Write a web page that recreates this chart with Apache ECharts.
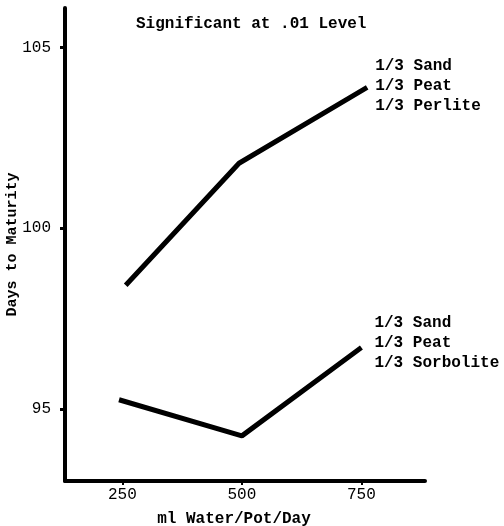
<!DOCTYPE html>
<html>
<head>
<meta charset="utf-8">
<script src="https://cdn.jsdelivr.net/npm/echarts@6/dist/echarts.min.js"></script>
<style>
	html, body { margin: 0; padding: 0; background: #fff; }
	#main { width: 504px; height: 526px; }
</style>
</head>
<body>
<div id="main"></div>
<script>
	// ml water per pot per day
	var xTicks = [ 250, 500, 750 ];
	var yTicks = [ 95, 100, 105 ];

	// 1/3 Sand, 1/3 Peat, 1/3 Perlite
	var perliteX = [ 257, 494, 762 ];
	var perliteY = [ 98.42, 101.8, 103.9 ];

	// 1/3 Sand, 1/3 Peat, 1/3 Sorbolite
	var sorboliteX = [ 243, 500, 750 ];
	var sorboliteY = [ 95.25, 94.25, 96.7 ];

	var perliteLabel = [ '1/3 Sand', '1/3 Peat', '1/3 Perlite' ];
	var sorboliteLabel = [ '1/3 Sand', '1/3 Peat', '1/3 Sorbolite' ];

	function pairs(xs, ys) {
		var out = [];
		for (var i = 0; i < xs.length; i++) {
			out.push([ xs[i], ys[i] ]);
		}
		return out;
	}

	var font = 'Liberation Mono';
	var myChart = echarts.init(document.getElementById('main'));
	var option = {
		animation : false,
		textStyle : {
			fontFamily : font,
			color : '#000'
		},
		title : {
			text : 'Significant at .01 Level',
			left : 131,
			top : 11,
			textStyle : {
				fontFamily : font,
				fontSize : 16,
				fontWeight : 'bold',
				color : '#000'
			}
		},
		grid : {
			left : 65,
			right : 79,
			top : 8,
			bottom : 45,
			containLabel : false,
			outerBoundsMode : 'none'
		},
		xAxis : {
			type : 'value',
			min : 130,
			max : 883,
			name : 'ml Water/Pot/Day',
			nameLocation : 'middle',
			nameGap : 30,
			nameTextStyle : {
				fontFamily : font,
				fontSize : 16,
				fontWeight : 'bold',
				color : '#000',
				padding : [ 0, 22, 0, 0 ]
			},
			splitLine : { show : false },
			axisLine : {
				onZero : false,
				lineStyle : { color : '#000', width : 4 }
			},
			axisTick : {
				customValues : xTicks,
				length : 4,
				lineStyle : { color : '#000', width : 2 }
			},
			axisLabel : {
				customValues : xTicks,
				margin : 6,
				fontFamily : font,
				fontSize : 16,
				color : '#000'
			}
		},
		yAxis : {
			type : 'value',
			min : 93,
			max : 106.1,
			name : 'Days to Maturity',
			nameLocation : 'middle',
			nameGap : 45,
			nameMoveOverlap : false,
			nameTextStyle : {
				fontFamily : font,
				fontSize : 15,
				fontWeight : 'bold',
				color : '#000'
			},
			splitLine : { show : false },
			axisLine : {
				onZero : false,
				lineStyle : { color : '#000', width : 4 }
			},
			axisTick : {
				customValues : yTicks,
				length : 5,
				lineStyle : { color : '#000', width : 3 }
			},
			axisLabel : {
				customValues : yTicks,
				margin : 14,
				fontFamily : font,
				fontSize : 16,
				color : '#000'
			}
		},
		series : [ {
			name : 'Perlite',
			type : 'line',
			data : pairs(perliteX, perliteY),
			showSymbol : false,
			lineStyle : { color : '#000', width : 5 },
			endLabel : {
				show : true,
				formatter : perliteLabel.join('\n'),
				distance : 8,
				offset : [ 0, -1 ],
				fontFamily : font,
				fontSize : 16,
				fontWeight : 'bold',
				lineHeight : 20,
				color : '#000'
			}
		}, {
			name : 'Sorbolite',
			type : 'line',
			data : pairs(sorboliteX, sorboliteY),
			showSymbol : false,
			lineStyle : { color : '#000', width : 5 },
			endLabel : {
				show : true,
				formatter : sorboliteLabel.join('\n'),
				distance : 13,
				offset : [ 0, -4 ],
				fontFamily : font,
				fontSize : 16,
				fontWeight : 'bold',
				lineHeight : 20,
				color : '#000'
			}
		} ]
	};
	myChart.setOption(option);
</script>
</body>
</html>
